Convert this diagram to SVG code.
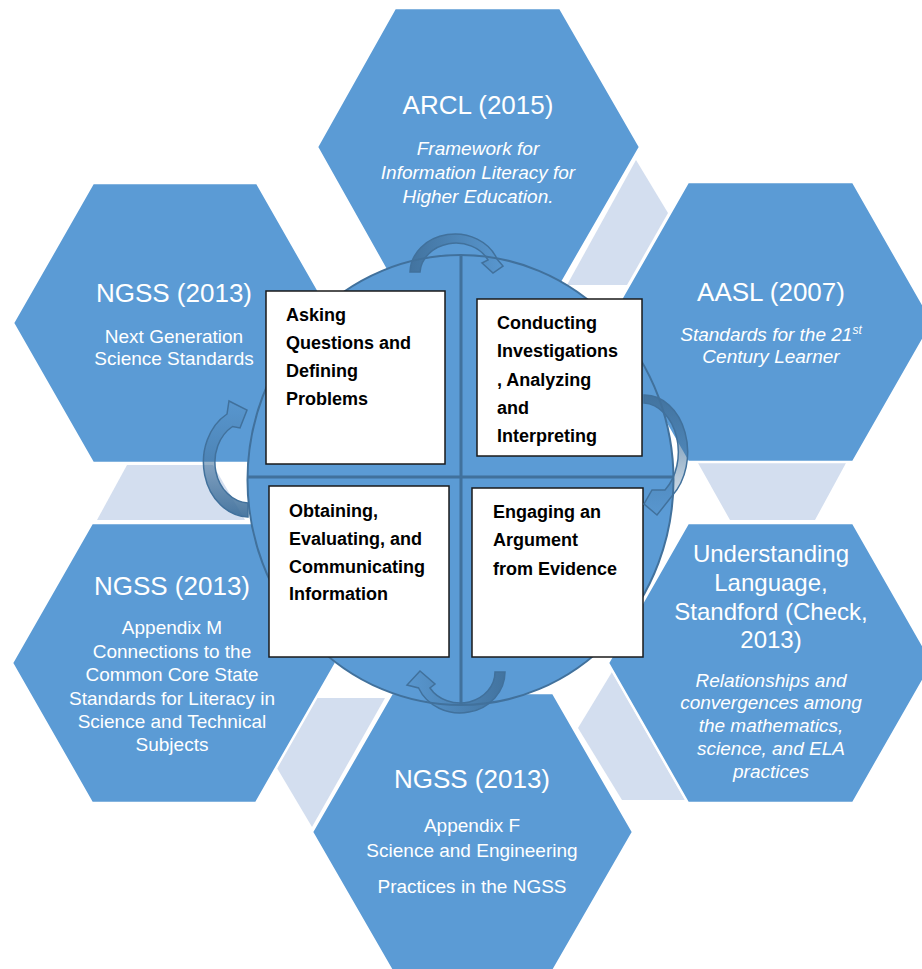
<svg xmlns="http://www.w3.org/2000/svg" width="922" height="969" viewBox="0 0 922 969">
<style>
.hex{fill:#5B9BD5;stroke:#FFFFFF;stroke-width:2.5}
.link{fill:#D3DEEF;stroke:none}
.t{font-family:"Liberation Sans",Arial,sans-serif;fill:#FFFFFF;text-anchor:middle}
.title{font-size:26px}
.sub{font-size:19px}
.it{font-style:italic}
.box{fill:#FFFFFF;stroke:#1A1A1A;stroke-width:1.5}
.bt{font-family:"Liberation Sans",Arial,sans-serif;font-weight:bold;font-size:18px;fill:#000000}
.div{stroke:#41719C;stroke-width:3;fill:none}
.arr{stroke:#41719C;stroke-width:1.5}
</style>
<defs>
<linearGradient id="gTop" gradientUnits="userSpaceOnUse" x1="410" y1="0" x2="503" y2="0">
<stop offset="0" stop-color="#41719C" stop-opacity="0.95"/><stop offset="1" stop-color="#41719C" stop-opacity="0.1"/></linearGradient>
<linearGradient id="gRight" gradientUnits="userSpaceOnUse" x1="0" y1="395" x2="0" y2="515">
<stop offset="0" stop-color="#41719C" stop-opacity="0.95"/><stop offset="1" stop-color="#41719C" stop-opacity="0.1"/></linearGradient>
<linearGradient id="gBot" gradientUnits="userSpaceOnUse" x1="505" y1="0" x2="407" y2="0">
<stop offset="0" stop-color="#41719C" stop-opacity="0.95"/><stop offset="1" stop-color="#41719C" stop-opacity="0.1"/></linearGradient>
<linearGradient id="gLeft" gradientUnits="userSpaceOnUse" x1="0" y1="517" x2="0" y2="400">
<stop offset="0" stop-color="#41719C" stop-opacity="0.95"/><stop offset="1" stop-color="#41719C" stop-opacity="0.1"/></linearGradient>
</defs>
<rect x="0" y="0" width="922" height="969" fill="#FFFFFF"/>

<g id="links">
<polygon class="link" points="636,160 668,213 627,285 567,285"/>
<polygon class="link" points="698,463 846,463 815,520 730,520"/>
<polygon class="link" points="127,465 213,465 245,520 97,520"/>
<polygon class="link" points="315,698 385,698 312,827 277,768"/>
<polygon class="link" points="612,672 685,800 622,800 578,728"/>
</g>

<g id="hex-arcl">
<polygon class="hex" points="395,8 560,8 640,147 560,286 395,286 317,147"/>
<text class="t title" x="478" y="114">ARCL (2015)</text>
<text class="t sub it" x="478" y="155">Framework for</text>
<text class="t sub it" x="478" y="179">Information Literacy for</text>
<text class="t sub it" x="478" y="203">Higher Education.</text>
</g>

<g id="hex-ngss-top">
<polygon class="hex" points="93,183 257,183 337,323 257,463 93,463 13,323"/>
<text class="t title" x="174" y="302">NGSS (2013)</text>
<text class="t sub" x="174" y="343">Next Generation</text>
<text class="t sub" x="174" y="365">Science Standards</text>
</g>

<g id="hex-aasl">
<polygon class="hex" points="688,182 853,182 933,322 853,462 688,462 608,322"/>
<text class="t title" x="771" y="301">AASL (2007)</text>
<text class="t sub it" x="771" y="341">Standards for the 21<tspan font-size="12" dy="-7">st</tspan></text>
<text class="t sub it" x="771" y="363">Century Learner</text>
</g>

<g id="hex-understanding">
<polygon class="hex" points="688,523 853,523 933,663 853,803 688,803 608,663"/>
<text class="t" font-size="24" x="771" y="562">Understanding</text>
<text class="t" font-size="24" x="771" y="591">Language,</text>
<text class="t" font-size="24" x="771" y="620">Standford (Check,</text>
<text class="t" font-size="24" x="771" y="648">2013)</text>
<text class="t sub it" x="771" y="687">Relationships and</text>
<text class="t sub it" x="771" y="709">convergences among</text>
<text class="t sub it" x="771" y="732">the mathematics,</text>
<text class="t sub it" x="771" y="755">science, and ELA</text>
<text class="t sub it" x="771" y="778">practices</text>
</g>

<g id="hex-ngss-m">
<polygon class="hex" points="92,523 256,523 336,663 256,803 92,803 12,663"/>
<text class="t title" x="172" y="595">NGSS (2013)</text>
<text class="t sub" x="172" y="634">Appendix M</text>
<text class="t sub" x="172" y="658">Connections to the</text>
<text class="t sub" x="172" y="681">Common Core State</text>
<text class="t sub" x="172" y="705">Standards for Literacy in</text>
<text class="t sub" x="172" y="728">Science and Technical</text>
<text class="t sub" x="172" y="751">Subjects</text>
</g>

<g id="hex-ngss-f">
<polygon class="hex" points="392,693 553,693 633,832 553,971 392,971 312,832"/>
<text class="t title" x="472" y="788">NGSS (2013)</text>
<text class="t sub" x="472" y="832">Appendix F</text>
<text class="t sub" x="472" y="857">Science and Engineering</text>
<text class="t sub" x="472" y="893">Practices in the NGSS</text>
</g>

<g id="cycle">
<ellipse cx="460.5" cy="480" rx="213" ry="225" fill="#5B9BD5" stroke="#41719C" stroke-width="2"/>
<line class="div" x1="461" y1="255" x2="461" y2="705"/>
<line class="div" x1="248" y1="477" x2="673" y2="477"/>
</g>

<g id="box-asking">
<rect class="box" x="266" y="291" width="179" height="173"/>
<text class="bt" x="286" y="321">Asking</text>
<text class="bt" x="286" y="349">Questions and</text>
<text class="bt" x="286" y="377">Defining</text>
<text class="bt" x="286" y="405">Problems</text>
</g>

<g id="box-conducting">
<rect class="box" x="477" y="299" width="165" height="157"/>
<text class="bt" x="497" y="329">Conducting</text>
<text class="bt" x="497" y="357">Investigations</text>
<text class="bt" x="497" y="386">, Analyzing</text>
<text class="bt" x="497" y="414">and</text>
<text class="bt" x="497" y="442">Interpreting</text>
</g>

<g id="box-engaging">
<rect class="box" x="472" y="488" width="171" height="169"/>
<text class="bt" x="493" y="518">Engaging an</text>
<text class="bt" x="493" y="546">Argument</text>
<text class="bt" x="493" y="575">from Evidence</text>
</g>

<g id="box-obtaining">
<rect class="box" x="269" y="486" width="180" height="171"/>
<text class="bt" x="289" y="517">Obtaining,</text>
<text class="bt" x="289" y="545">Evaluating, and</text>
<text class="bt" x="289" y="573">Communicating</text>
<text class="bt" x="289" y="600">Information</text>
</g>

<g id="connectors">
<path class="arr" fill="url(#gTop)" d="M 410 272 A 45 39 0 0 1 497 259 L 503 266 L 493 273 L 482 263 L 488 260 A 36 31 0 0 0 420 272 Z"/>
<path class="arr" fill="url(#gRight)" d="M 644 395 A 43 57 0 0 1 672 496 L 657 515 L 644 504 L 652 490 L 665 490 A 36 49 0 0 0 644 403 Z"/>
<path class="arr" fill="url(#gBot)" d="M 505 672 A 45 41 0 0 1 418.6 688 L 407 685 L 420 671 L 435 684 L 430 688 A 35 31 0 0 0 495 672 Z"/>
<path class="arr" fill="url(#gLeft)" d="M 248 517 A 46 55 0 0 1 227 414 L 229 401 L 247 410 L 240 428 L 232.5 426.5 A 35 41 0 0 0 248 503 Z"/>
</g>
</svg>
